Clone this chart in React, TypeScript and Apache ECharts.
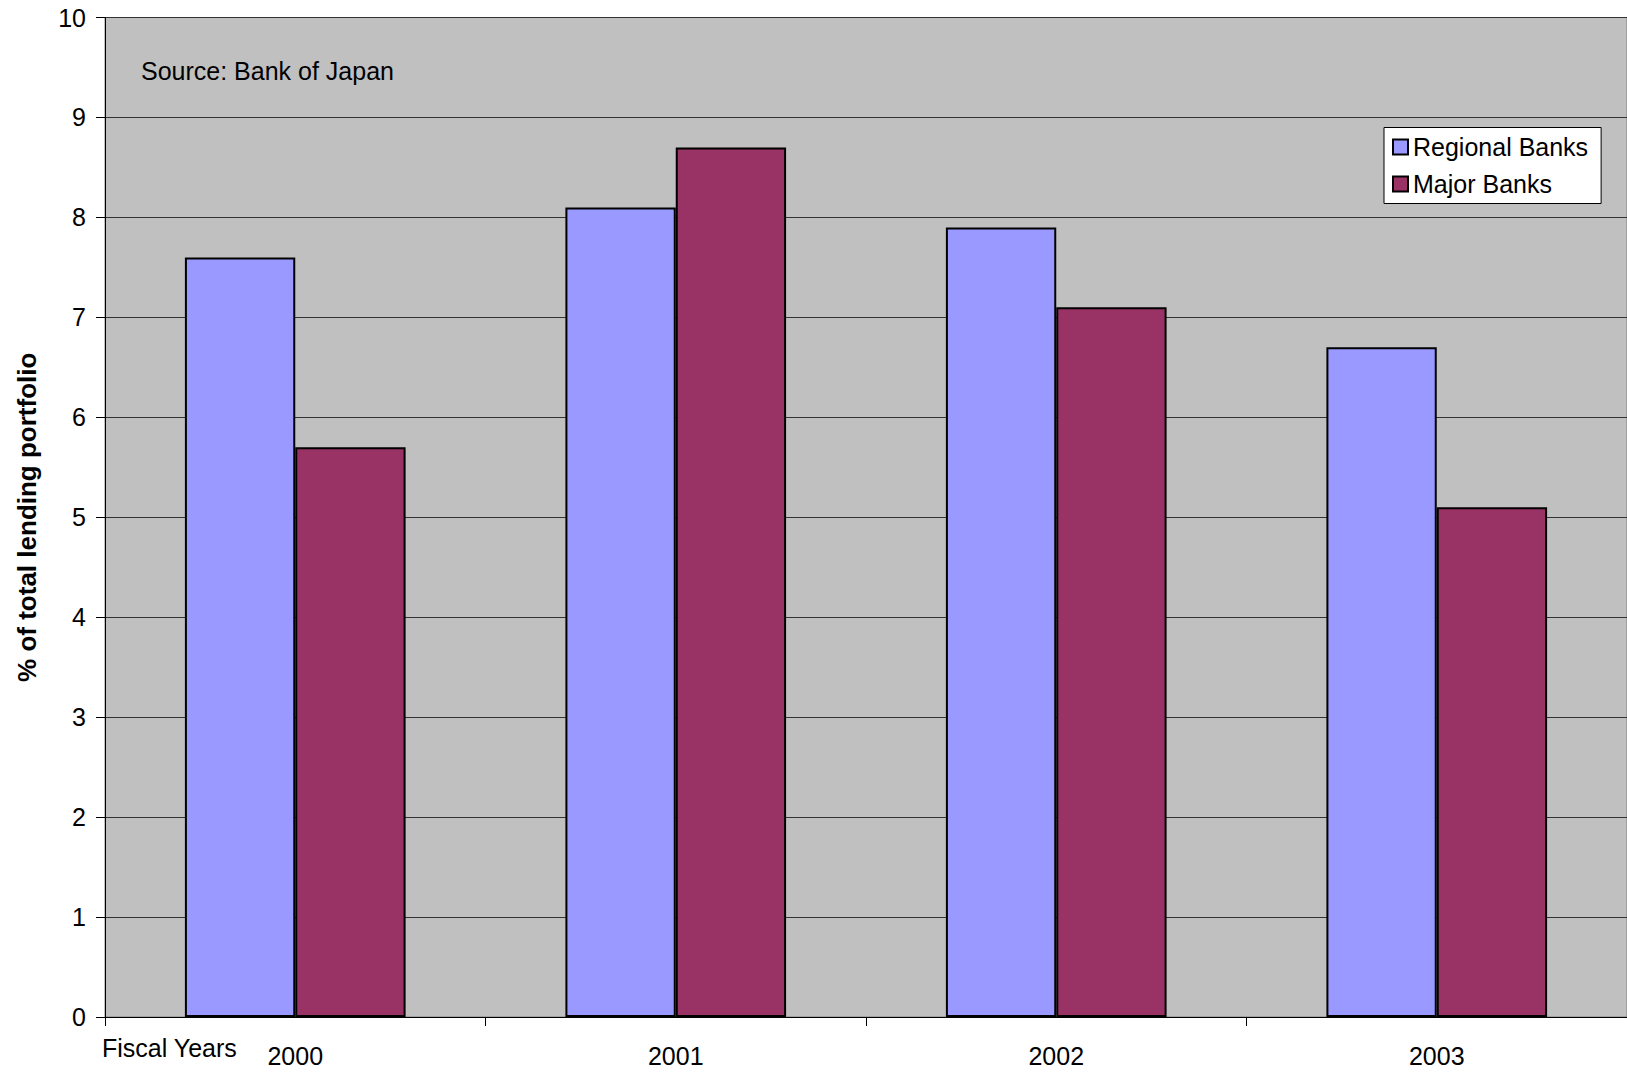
import React, { useEffect, useRef } from "react";
import * as echarts from "echarts";

const categories = ["2000", "2001", "2002", "2003"];
const regionalBanks = [7.6, 8.1, 7.9, 6.7];
const majorBanks = [5.7, 8.7, 7.1, 5.1];
const seriesNames = ["Regional Banks", "Major Banks"];

const FONT = "'Liberation Sans', Arial, sans-serif";

export default function App() {
  const ref = useRef<HTMLDivElement>(null);
  useEffect(() => {
    document.body.style.margin = "0";
    const chart = echarts.init(ref.current!, null, { renderer: "svg" });
    chart.setOption({
      animation: false,
      backgroundColor: "#ffffff",
      textStyle: { fontFamily: FONT },
      grid: {
        left: 105,
        top: 17.5,
        right: 0,
        bottom: 55,
        show: true,
        containLabel: false,
        outerBoundsMode: "none",
        backgroundColor: "#C0C0C0",
        borderColor: "#808080",
        borderWidth: 1,
      },
      legend: {
        orient: "vertical",
        left: 1384,
        top: 127.5,
        backgroundColor: "#ffffff",
        borderColor: "#000000",
        borderWidth: 1,
        padding: [7, 13, 7, 8],
        itemGap: 12,
        itemWidth: 15,
        itemHeight: 15,
        icon: "rect",
        itemStyle: { borderColor: "#000", borderWidth: 2 },
        textStyle: { fontSize: 25, color: "#000", fontFamily: FONT },
        data: seriesNames,
      },
      xAxis: {
        type: "category",
        data: categories,
        axisLine: { lineStyle: { color: "#000", width: 1 } },
        axisTick: { show: true, length: 9, lineStyle: { color: "#000" } },
        axisLabel: { fontSize: 25, color: "#000", margin: 26, fontFamily: FONT },
      },
      yAxis: {
        type: "value",
        min: 0,
        max: 10,
        interval: 1,
        name: "% of total lending portfolio",
        nameLocation: "middle",
        nameRotate: 90,
        nameGap: 65,
        nameTextStyle: { fontSize: 26, fontWeight: "bold", color: "#000", fontFamily: FONT },
        axisLine: { show: true, lineStyle: { color: "#000", width: 1 } },
        axisTick: { show: true, length: 9, lineStyle: { color: "#000" } },
        axisLabel: { fontSize: 25, color: "#000", margin: 19, fontFamily: FONT },
        splitLine: { show: true, lineStyle: { color: "#333", width: 1 } },
      },
      graphic: [
        {
          type: "text",
          left: 141,
          top: 58,
          style: { text: "Source: Bank of Japan", fontSize: 25, fill: "#000", fontFamily: FONT },
        },
        {
          type: "text",
          left: 102,
          top: 1035,
          style: { text: "Fiscal Years", fontSize: 25, fill: "#000", fontFamily: FONT },
        },
      ],
      series: [
        {
          name: seriesNames[0],
          type: "bar",
          data: regionalBanks,
          barGap: "0%",
          barCategoryGap: "42%",
          itemStyle: { color: "#9999FF", borderColor: "#000", borderWidth: 2 },
        },
        {
          name: seriesNames[1],
          type: "bar",
          data: majorBanks,
          barGap: "0%",
          barCategoryGap: "42%",
          itemStyle: { color: "#993366", borderColor: "#000", borderWidth: 2 },
        },
      ],
    });
    return () => chart.dispose();
  }, []);
  return (
    <div
      ref={ref}
      style={{ position: "absolute", left: 0, top: 0, width: 1627, height: 1072 }}
    />
  );
}
